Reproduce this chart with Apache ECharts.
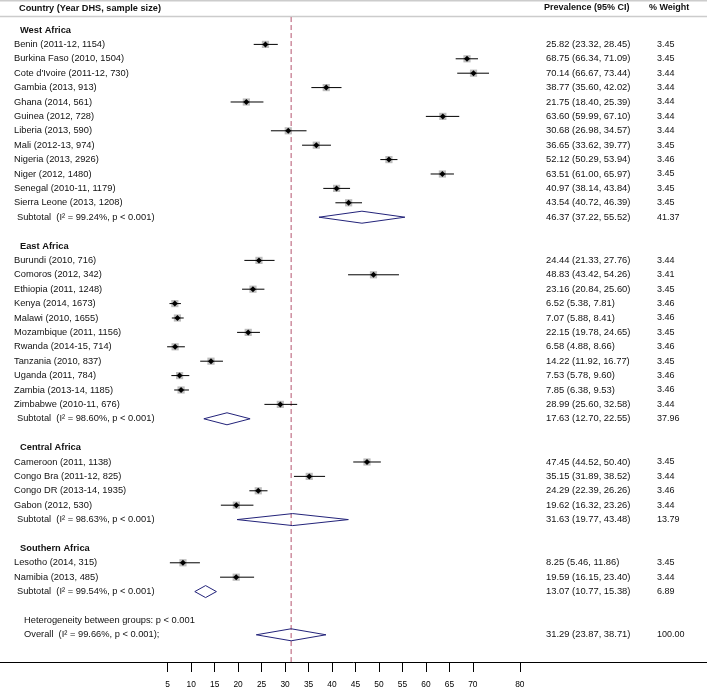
<!DOCTYPE html>
<html><head><meta charset="utf-8">
<script src="https://cdn.jsdelivr.net/npm/echarts@6/dist/echarts.min.js"></script>
<style>html,body{margin:0;padding:0;background:#fff}#c{width:707px;height:689px}</style>
</head><body><div id="c"></div>
<script>
const groupNames = ['West Africa', 'East Africa', 'Central Africa', 'Southern Africa'];
const countries = [
  'Benin (2011-12, 1154)', 'Burkina Faso (2010, 1504)', "Cote d'Ivoire (2011-12, 730)", 'Gambia (2013, 913)',
  'Ghana (2014, 561)', 'Guinea (2012, 728)', 'Liberia (2013, 590)', 'Mali (2012-13, 974)',
  'Nigeria (2013, 2926)', 'Niger (2012, 1480)', 'Senegal (2010-11, 1179)', 'Sierra Leone (2013, 1208)',
  'Burundi (2010, 716)', 'Comoros (2012, 342)', 'Ethiopia (2011, 1248)', 'Kenya (2014, 1673)',
  'Malawi (2010, 1655)', 'Mozambique (2011, 1156)', 'Rwanda (2014-15, 714)', 'Tanzania (2010, 837)',
  'Uganda (2011, 784)', 'Zambia (2013-14, 1185)', 'Zimbabwe (2010-11, 676)',
  'Cameroon (2011, 1138)', 'Congo Bra (2011-12, 825)', 'Congo DR (2013-14, 1935)', 'Gabon (2012, 530)',
  'Lesotho (2014, 315)', 'Namibia (2013, 485)'
];
const groupIndex = [0,0,0,0,0,0,0,0,0,0,0,0, 1,1,1,1,1,1,1,1,1,1,1, 2,2,2,2, 3,3];
const prevalence = [25.82,68.75,70.14,38.77,21.75,63.60,30.68,36.65,52.12,63.51,40.97,43.54,
  24.44,48.83,23.16,6.52,7.07,22.15,6.58,14.22,7.53,7.85,28.99,
  47.45,35.15,24.29,19.62, 8.25,19.59];
const ciLow = [23.32,66.34,66.67,35.60,18.40,59.99,26.98,33.62,50.29,61.00,38.14,40.72,
  21.33,43.42,20.84,5.38,5.88,19.78,4.88,11.92,5.78,6.38,25.60,
  44.52,31.89,22.39,16.32, 5.46,16.15];
const ciHigh = [28.45,71.09,73.44,42.02,25.39,67.10,34.57,39.77,53.94,65.97,43.84,46.39,
  27.76,54.26,25.60,7.81,8.41,24.65,8.66,16.77,9.60,9.53,32.58,
  50.40,38.52,26.26,23.26, 11.86,23.40];
const weights = [3.45,3.45,3.44,3.44,3.44,3.44,3.44,3.45,3.46,3.45,3.45,3.45,
  3.44,3.41,3.45,3.46,3.46,3.45,3.46,3.45,3.46,3.46,3.44,
  3.45,3.44,3.46,3.44, 3.45,3.44];
const subtotalLabels = [
  'Subtotal  (I² = 99.24%, p < 0.001)', 'Subtotal  (I² = 98.60%, p < 0.001)',
  'Subtotal  (I² = 98.63%, p < 0.001)', 'Subtotal  (I² = 99.54%, p < 0.001)'
];
const subPrev = [46.37, 17.63, 31.63, 13.07];
const subLow = [37.22, 12.70, 19.77, 10.77];
const subHigh = [55.52, 22.55, 43.48, 15.38];
const subWeights = [41.37, 37.96, 13.79, 6.89];
const heterogeneityLabel = 'Heterogeneity between groups: p < 0.001';
const overallLabel = 'Overall  (I² = 99.66%, p < 0.001);';
const overallPrev = 31.29, overallLow = 23.87, overallHigh = 38.71, overallWeight = 100.00;
const headers = ['Country (Year DHS, sample size)', 'Prevalence (95% CI)', '% Weight'];
const xTicks = [5, 10, 15, 20, 25, 30, 35, 40, 45, 50, 55, 60, 65, 70, 80];

const fmt = (e, l, h) => e.toFixed(2) + ' (' + l.toFixed(2) + ', ' + h.toFixed(2) + ')';

// build row layout
const textRows = [];
const studyData = [];
const diamondData = [];
textRows.push({ row: -1.53, kind: 'header', label: headers[0], prev: headers[1], w: headers[2] });
let r = 0;
groupNames.forEach((g, gi) => {
  textRows.push({ row: r, kind: 'group', label: g }); r++;
  countries.forEach((c, i) => {
    if (groupIndex[i] !== gi) return;
    studyData.push([prevalence[i], r, ciLow[i], ciHigh[i]]);
    textRows.push({ row: r, kind: 'study', label: c, prev: fmt(prevalence[i], ciLow[i], ciHigh[i]), w: weights[i].toFixed(2) });
    r++;
  });
  diamondData.push([subPrev[gi], r, subLow[gi], subHigh[gi]]);
  textRows.push({ row: r, kind: 'sub', label: subtotalLabels[gi], prev: fmt(subPrev[gi], subLow[gi], subHigh[gi]), w: subWeights[gi].toFixed(2) });
  r += 2;
});
textRows.push({ row: r, kind: 'het', label: heterogeneityLabel }); r++;
diamondData.push([overallPrev, r, overallLow, overallHigh]);
textRows.push({ row: r, kind: 'overall', label: overallLabel, prev: fmt(overallPrev, overallLow, overallHigh), w: overallWeight.toFixed(2) });

const FONT = '"Liberation Sans", Arial, sans-serif';
const labelX = { header: 19, group: 20, study: 14, sub: 17, het: 24, overall: 24 };

const chart = echarts.init(document.getElementById('c'));
chart.setOption({
  animation: false,
  backgroundColor: '#fff',
  grid: { left: 0, right: 0, top: 0, bottom: 27, containLabel: false, outerBoundsMode: 'none' },
  xAxis: {
    type: 'value', position: 'bottom', min: -30.72, max: 119.87,
    axisLine: { show: true, onZero: false, lineStyle: { color: '#000', width: 1 } },
    axisTick: { show: true, customValues: xTicks, length: 10, lineStyle: { color: '#000', width: 1 } },
    axisLabel: { show: true, customValues: xTicks, margin: 19, fontSize: 8.4, color: '#000', fontFamily: FONT },
    splitLine: { show: false }
  },
  yAxis: { type: 'value', inverse: true, min: -2.083, max: 43.89, show: false },
  graphic: [
    { type: 'line', shape: { x1: 0, y1: 0.8, x2: 707, y2: 0.8 }, style: { stroke: '#cccccc', lineWidth: 1.6 } },
    { type: 'line', shape: { x1: 0, y1: 16.5, x2: 707, y2: 16.5 }, style: { stroke: '#cccccc', lineWidth: 1.6 } }
  ],
  series: [
    {
      type: 'custom', name: 'refline', z: 1,
      data: [[overallPrev, -0.9, 43.89]],
      encode: { x: 0, y: 1 },
      renderItem: (params, api) => {
        const a = api.coord([api.value(0), api.value(1)]);
        const b = api.coord([api.value(0), api.value(2)]);
        return { type: 'line', shape: { x1: a[0], y1: a[1], x2: b[0], y2: b[1] },
          style: { stroke: '#b5546e', lineWidth: 1, lineDash: [5, 3] } };
      }
    },
    {
      type: 'custom', name: 'studies', z: 3,
      data: studyData,
      encode: { x: 0, y: 1 },
      renderItem: (params, api) => {
        const p = api.coord([api.value(0), api.value(1)]);
        const a = api.coord([api.value(2), api.value(1)]);
        const b = api.coord([api.value(3), api.value(1)]);
        return { type: 'group', children: [
          { type: 'rect', shape: { x: p[0] - 3.6, y: p[1] - 3.6, width: 7.2, height: 7.2 }, style: { fill: '#bdbdbd' } },
          { type: 'line', shape: { x1: a[0], y1: p[1], x2: b[0], y2: p[1] }, style: { stroke: '#000', lineWidth: 1 } },
          { type: 'polygon', shape: { points: [[p[0] - 3, p[1]], [p[0], p[1] - 3], [p[0] + 3, p[1]], [p[0], p[1] + 3]] }, style: { fill: '#000' } }
        ] };
      }
    },
    {
      type: 'custom', name: 'diamonds', z: 2,
      data: diamondData,
      encode: { x: 0, y: 1 },
      renderItem: (params, api) => {
        const p = api.coord([api.value(0), api.value(1)]);
        const a = api.coord([api.value(2), api.value(1)]);
        const b = api.coord([api.value(3), api.value(1)]);
        return { type: 'polygon', shape: { points: [[a[0], p[1]], [p[0], p[1] - 6], [b[0], p[1]], [p[0], p[1] + 6]] },
          style: { fill: 'none', stroke: '#23237a', lineWidth: 1 } };
      }
    },
    {
      type: 'custom', name: 'texts', z: 4,
      data: textRows.map((t, i) => [0, t.row, i]),
      encode: { x: 0, y: 1 },
      renderItem: (params, api) => {
        const t = textRows[api.value(2)];
        const y = api.coord([0, api.value(1)])[1];
        const isHead = t.kind === 'header';
        const bold = (isHead || t.kind === 'group') ? 'bold' : 'normal';
        const lsize = isHead ? 9.2 : 9.3;
        const children = [{ type: 'text', x: labelX[t.kind], y: y,
          style: { text: t.label, fontSize: lsize, fontWeight: bold, fontFamily: FONT, fill: '#111', verticalAlign: 'middle', align: 'left' } }];
        if (t.prev) children.push({ type: 'text', x: isHead ? 544 : 546, y: y,
          style: { text: t.prev, fontSize: isHead ? 9 : 9.4, fontWeight: bold, fontFamily: FONT, fill: '#111', verticalAlign: 'middle', align: 'left' } });
        if (t.w) children.push({ type: 'text', x: isHead ? 649 : 657, y: y,
          style: { text: t.w, fontSize: 9, fontWeight: bold, fontFamily: FONT, fill: '#111', verticalAlign: 'middle', align: 'left' } });
        return { type: 'group', children };
      }
    }
  ]
});
</script>
</body></html>
